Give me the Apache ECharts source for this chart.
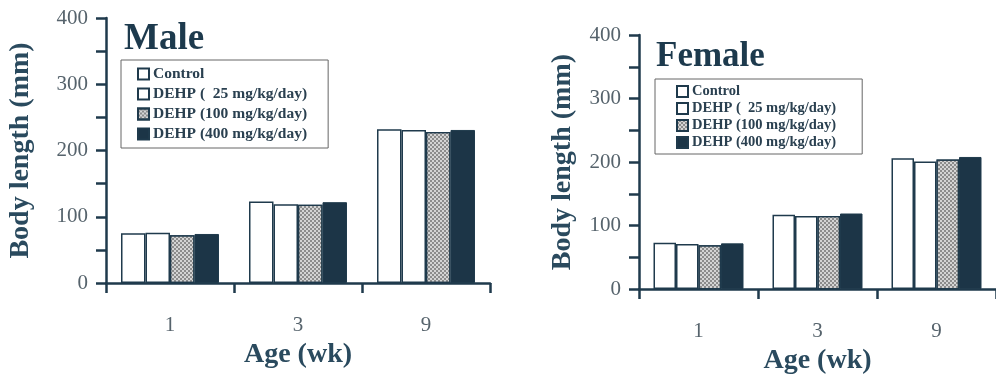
<!DOCTYPE html>
<html>
<head>
<meta charset="utf-8">
<script src="https://cdn.jsdelivr.net/npm/echarts@6/dist/echarts.min.js"></script>
<style>
html,body{margin:0;padding:0;background:#fff;}
#chart{width:996px;height:380px;}
</style>
</head>
<body>
<div id="chart"></div>
<script>
var categories = ['1', '3', '9'];
var seriesNames = ['Control', 'DEHP (  25 mg/kg/day)', 'DEHP (100 mg/kg/day)', 'DEHP (400 mg/kg/day)'];
var maleControl = [75, 123, 232];
var male25 = [76, 119, 231];
var male100 = [72, 118, 228];
var male400 = [74, 122, 231];
var femaleControl = [73, 117, 206];
var female25 = [71, 115, 201];
var female100 = [69, 115, 204];
var female400 = [72, 119, 208];
var yTicks = [0, 100, 200, 300, 400];

var ink = '#1f3a4c';
var labelGray = '#56636c';
var serif = '"Liberation Serif", "DejaVu Serif", serif';

var styles = [
  {color: '#ffffff', borderColor: ink, borderWidth: 1.5},
  {color: '#ffffff', borderColor: ink, borderWidth: 1.5},
  {color: '#d4d4d4', borderColor: ink, borderWidth: 1.2,
   decal: {symbol: 'rect', symbolSize: 1, color: 'rgba(80,80,80,0.55)',
           dashArrayX: [[2, 2], [0, 2, 2, 0]], dashArrayY: [2, 0], rotation: 0}},
  {color: '#1c3547', borderColor: ink, borderWidth: 1}
];

function makeSeries(dataArr, idx, barW) {
  return dataArr.map(function (d, i) {
    return {
      type: 'bar', name: seriesNames[i], data: d,
      xAxisIndex: idx, yAxisIndex: idx,
      barWidth: barW, barGap: '0%',
      itemStyle: styles[i]
    };
  });
}

function yAxis(idx, gap) {
  return {
    type: 'value', gridIndex: idx, min: 0, max: 400, interval: 50,
    name: 'Body length (mm)', nameLocation: 'middle', nameGap: gap, nameRotate: 90,
    nameTextStyle: {fontFamily: serif, fontWeight: 'bold', fontSize: 28, color: '#2a4a5e'},
    axisLine: {show: true, lineStyle: {color: ink, width: 2.5}},
    axisTick: {show: true, length: 10, lineStyle: {color: ink, width: 2.5}},
    splitLine: {show: false},
    axisLabel: {
      margin: 18, fontFamily: serif, fontSize: 21, color: labelGray,
      formatter: function (v) { return yTicks.indexOf(v) >= 0 ? String(v) : ''; }
    }
  };
}

function xAxis(idx, gap) {
  return {
    type: 'category', gridIndex: idx, data: categories,
    name: 'Age (wk)', nameLocation: 'middle', nameGap: gap,
    nameTextStyle: {fontFamily: serif, fontWeight: 'bold', fontSize: 28, color: '#2a4a5e'},
    axisLine: {show: true, lineStyle: {color: ink, width: 2.5}},
    axisTick: {show: true, length: 10, alignWithLabel: false, lineStyle: {color: ink, width: 2.5}},
    axisLabel: {margin: 32, fontFamily: serif, fontSize: 21, color: labelGray}
  };
}

function legend(left, top, fs, gap, pad) {
  return {
    orient: 'vertical', left: left, top: top,
    data: seriesNames,
    itemWidth: 11, itemHeight: 11, itemGap: gap,
    padding: pad,
    borderColor: '#666', borderWidth: 1,
    icon: 'rect',
    selectedMode: false,
    textStyle: {fontFamily: serif, fontWeight: 'bold', fontSize: fs, color: '#2a4050', padding: [0, 0, 0, -1]}
  };
}

var chart = echarts.init(document.getElementById('chart'), null, {renderer: 'canvas'});
chart.setOption({
  animation: false,
  backgroundColor: '#ffffff',
  title: [
    {text: 'Male', left: 119, top: 16,
     textStyle: {fontFamily: serif, fontWeight: 'bold', fontSize: 37, color: '#1d3a4d'}},
    {text: 'Female', left: 651, top: 34,
     textStyle: {fontFamily: serif, fontWeight: 'bold', fontSize: 35, color: '#1d3a4d'}}
  ],
  legend: [
    legend(121, 60, 15.5, 4, [6, 21, 6, 16]),
    legend(655, 79, 14.5, 2, [5, 26, 4, 21])
  ],
  grid: [
    {left: 106, top: 18, width: 384, height: 265},
    {left: 639, top: 35, width: 366, height: 255}
  ],
  xAxis: [xAxis(0, 56), xAxis(1, 56)],
  yAxis: [yAxis(0, 71), yAxis(1, 62)],
  series: makeSeries([maleControl, male25, male100, male400], 0, 24.5)
    .concat(makeSeries([femaleControl, female25, female100, female400], 1, 22.5))
});
</script>
</body>
</html>
